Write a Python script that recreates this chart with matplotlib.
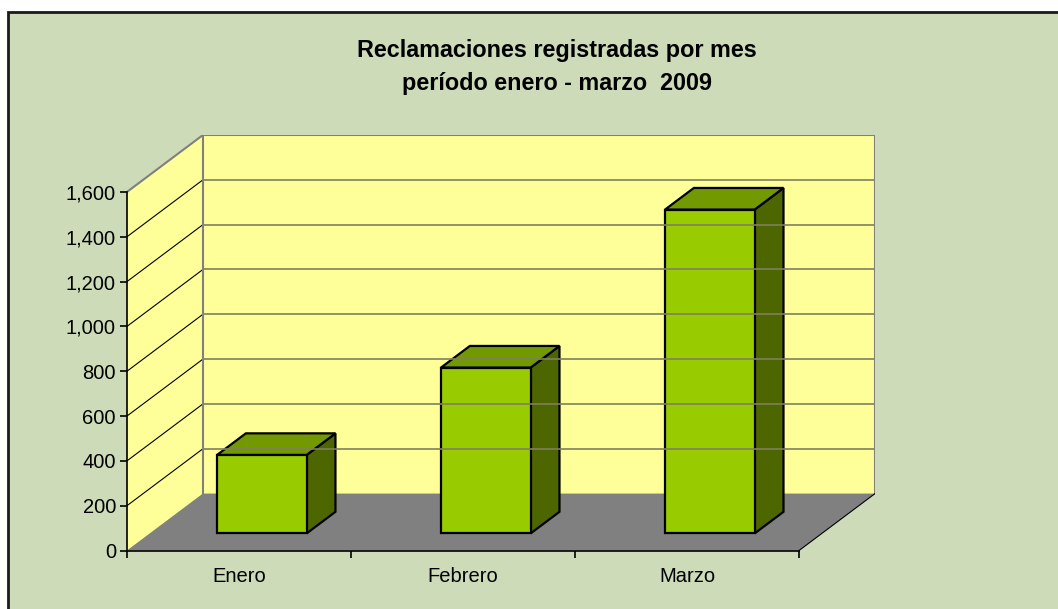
import matplotlib.pyplot as plt
from matplotlib.patches import Rectangle
from matplotlib.ticker import FuncFormatter

plt.rcParams['font.family'] = ['Liberation Sans', 'DejaVu Sans']


def plot_reclamaciones(months, values):
    dx, dy = 0.339, 254  # profundidad de las paredes (unidades de datos)
    f0, fd, w = 0.30, 0.38, 0.40  # posicion, fondo y ancho de las barras
    top = 1600

    plt.figure(figsize=(10.58, 6.09), dpi=100)
    fig = plt.gcf()
    fig.patches.append(Rectangle((8 / 1058, -0.05), 1.2, 1.05 - 12 / 609, transform=fig.transFigure,
                                 facecolor='#CDDBB9', edgecolor='#1a1a1a', linewidth=2, zorder=-1))
    plt.axes([127 / 1058, 58.5 / 609, 748 / 1058, 415.5 / 609])
    ax = plt.gca()
    ax.patch.set_visible(False)
    n = len(months)

    # paredes y piso
    plt.fill([0, dx, dx, 0], [0, dy, top + dy, top], color='#FFFF99', lw=0)
    plt.fill([dx, n + dx, n + dx, dx], [dy, dy, top + dy, top + dy], color='#FFFF99', lw=0)
    plt.fill([0, n, n + dx, dx], [0, 0, dy, dy], color='#808080', lw=0)
    for v in range(200, top, 200):
        plt.plot([dx, n + dx], [v + dy, v + dy], color='#7F7F60', lw=1.2)
        plt.plot([0, dx], [v, v + dy], color='black', lw=0.8)
    plt.plot([0, dx, n + dx, n + dx], [top, top + dy, top + dy, dy], color='#808080', lw=1.5)
    plt.plot([dx, dx], [dy, top + dy], color='#808080', lw=1.5)
    plt.plot([n, n + dx], [0, dy], color='black', lw=0.8)

    # barras
    for i, v in enumerate(values):
        x0 = i + 0.5 - w / 2 + f0 * dx
        x1 = x0 + w
        y0 = f0 * dy
        ox, oy = fd * dx, fd * dy
        plt.fill([x1, x1 + ox, x1 + ox, x1], [y0, y0 + oy, y0 + oy + v, y0 + v],
                 facecolor='#4D6600', edgecolor='black', lw=1.6)
        plt.fill([x0, x1, x1 + ox, x0 + ox], [y0 + v, y0 + v, y0 + oy + v, y0 + oy + v],
                 facecolor='#739900', edgecolor='black', lw=1.6)
        plt.fill([x0, x1, x1, x0], [y0, y0, y0 + v, y0 + v],
                 facecolor='#99CC00', edgecolor='black', lw=1.6)

    plt.xlim(0, n + dx)
    plt.ylim(0, top + dy)
    for side in ['top', 'right']:
        ax.spines[side].set_visible(False)
    ax.spines['left'].set_bounds(0, top)
    ax.spines['bottom'].set_bounds(0, n)
    ax.spines['left'].set_linewidth(1.2)
    ax.spines['bottom'].set_linewidth(1.2)
    plt.yticks(range(0, top + 1, 200), fontsize=14.5)
    ax.yaxis.set_major_formatter(FuncFormatter(lambda v, p: f'{v:,.0f}'))
    plt.tick_params(axis='y', direction='out', length=5, width=1.2, pad=3)
    ax.set_xticks(range(n + 1))
    ax.set_xticklabels([])
    ax.set_xticks([i + 0.5 for i in range(n)], months, minor=True, fontsize=14.5)
    ax.tick_params(axis='x', which='major', direction='out', length=5, width=1.2)
    ax.tick_params(axis='x', which='minor', length=0, pad=12)

    fig.text(557 / 1058, 1 - 67 / 609, 'Reclamaciones registradas por mes\nperíodo enero - marzo  2009',
             ha='center', va='center', fontsize=16.8, fontweight='bold', linespacing=1.55)
    plt.savefig('out.png')
    return max(values)


months = ['Enero', 'Febrero', 'Marzo']
values = [350, 740, 1445]
plot_reclamaciones(months, values)
